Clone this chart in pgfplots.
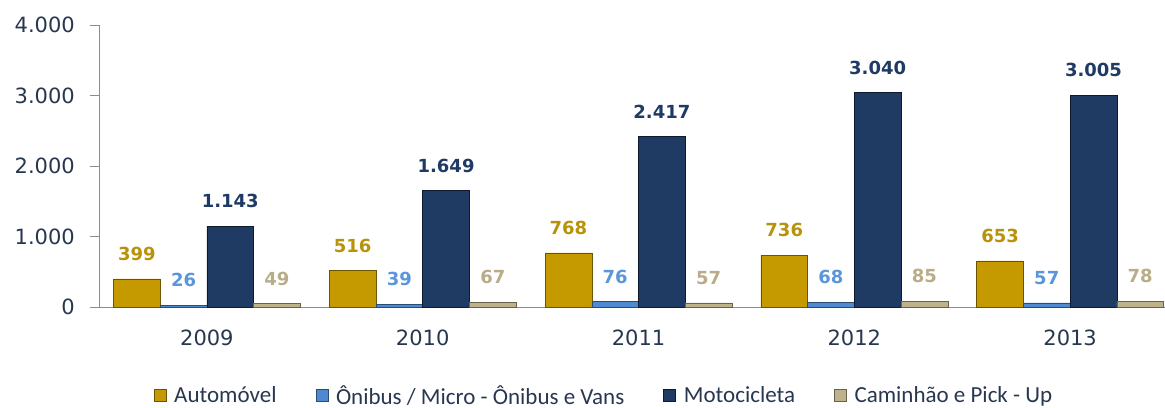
\documentclass[border=0pt]{standalone}
\usepackage{pgfplots}
\pgfplotsset{compat=1.18}
\usepackage{fontspec}
\setmainfont{DejaVu Sans}
\newfontfamily\carlito{Carlito}
\definecolor{txt}{RGB}{40,55,80}
\definecolor{cauto}{RGB}{196,154,0}
\definecolor{lauto}{RGB}{184,146,10}
\definecolor{conib}{RGB}{79,138,208}
\definecolor{lonib}{RGB}{91,150,218}
\definecolor{cmoto}{RGB}{31,59,99}
\definecolor{lmoto}{RGB}{31,58,100}
\definecolor{ccam}{RGB}{190,178,138}
\definecolor{lcam}{RGB}{184,173,136}
\begin{document}
\begin{tikzpicture}
\useasboundingbox (-99bp,-101bp) rectangle (1066bp,307bp);
\begin{axis}[
  at={(0,0)}, anchor=south west,
  scale only axis, width=1066bp, height=282bp,
  xmin=-0.5, xmax=4.44, ymin=0, ymax=4000,
  clip=false,
  axis x line*=bottom, axis y line*=left,
  axis line style={draw=black!45,-},
  ybar, bar width=0.2165,
  xtick={0,1,2,3,4}, xticklabels={2009,2010,2011,2012,2013},
  ytick={0,1000,2000,3000,4000},
  scaled y ticks=false,
  /pgf/number format/.cd, 1000 sep={.}, assume math mode=true, /pgfplots/.cd,
  tick align=outside, major tick length=9bp,
  xtick style={draw=none}, ytick style={draw=black!45},
  tick label style={font=\fontsize{21bp}{24bp}\selectfont, text=txt, inner sep=0pt},
  yticklabel style={xshift=-15bp},
  xticklabel style={yshift=-14bp},
  every node near coord/.append style={font=\bfseries\fontsize{18bp}{20bp}\selectfont, inner sep=0pt, anchor=south, yshift=18bp},
  legend columns=4,
  legend style={at={(0.4737,-0.3135)}, anchor=center, draw=none, fill=none,
    font=\carlito\fontsize{23bp}{25bp}\selectfont, text=txt, inner sep=0pt,
    /tikz/every odd column/.append style={column sep=6bp},
    /tikz/every even column/.append style={column sep=37bp}},
  legend image code/.code={\fill[#1] (0bp,-6bp) rectangle (12bp,6bp);},
]
\addplot[bar shift=-0.32475, fill=cauto, draw=cauto!55!black, line width=0.5bp,
  nodes near coords, every node near coord/.append style={text=lauto}]
  coordinates {(0,399) (1,516) (2,768) (3,736) (4,653)};
\addlegendentry{Automóvel}
\addplot[bar shift=-0.10825, fill=conib, draw=conib!55!black, line width=0.5bp,
  nodes near coords, every node near coord/.append style={text=lonib}]
  coordinates {(0,26) (1,39) (2,76) (3,68) (4,57)};
\addlegendentry{Ônibus / Micro - Ônibus e Vans}
\addplot[bar shift=0.10825, fill=cmoto, draw=cmoto!45!black, line width=0.5bp,
  nodes near coords, every node near coord/.append style={text=lmoto}]
  coordinates {(0,1143) (1,1649) (2,2417) (3,3040) (4,3005)};
\addlegendentry{Motocicleta}
\addplot[bar shift=0.32475, fill=ccam, draw=ccam!55!black, line width=0.5bp,
  nodes near coords, every node near coord/.append style={text=lcam}]
  coordinates {(0,49) (1,67) (2,57) (3,85) (4,78)};
\addlegendentry{Caminhão e Pick - Up}
\end{axis}
\end{tikzpicture}
\end{document}
